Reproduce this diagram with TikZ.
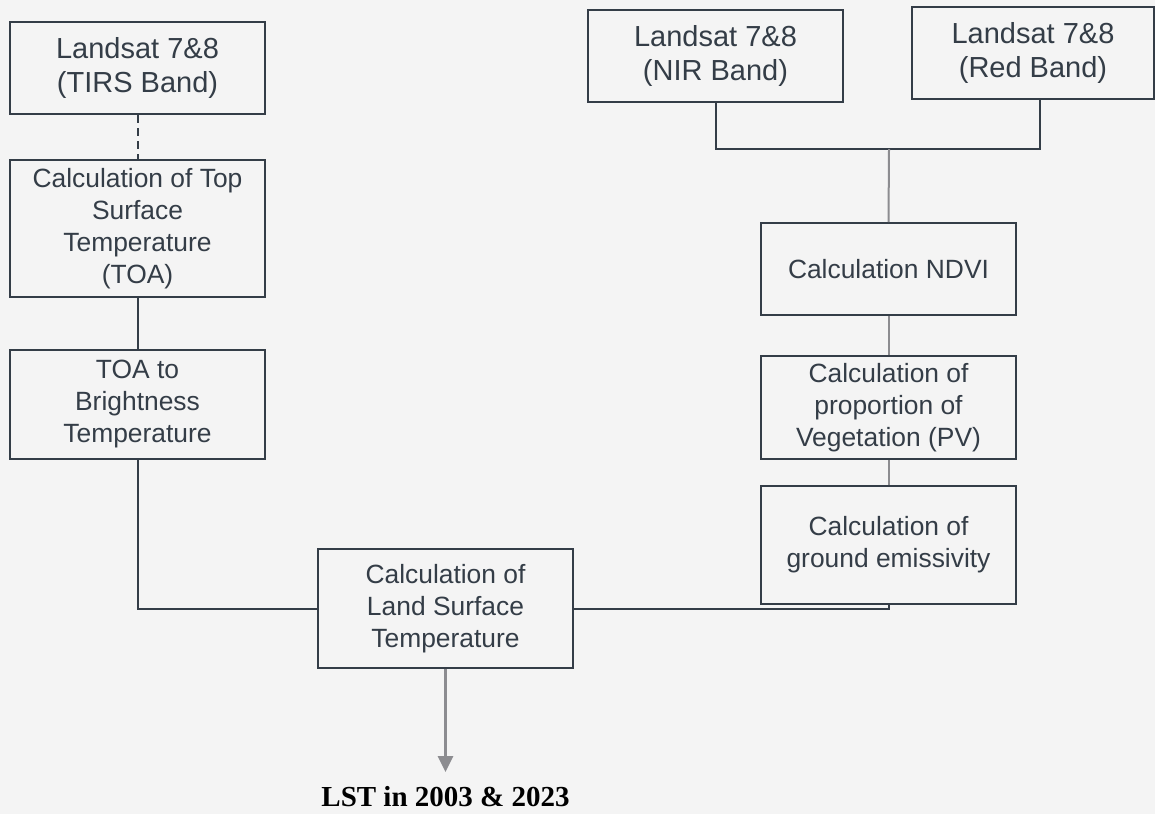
\documentclass[tikz,border=0pt]{standalone}
\usepackage{fontspec}
\setmainfont{Liberation Sans}
\newfontfamily\serifbold{Liberation Serif}
\usetikzlibrary{arrows.meta,calc}
\definecolor{bgc}{HTML}{F4F4F4}
\definecolor{ink}{HTML}{343D47}
\definecolor{greyline}{HTML}{8C8C90}
\tikzset{
  box/.style={draw=ink, line width=2pt, fill=bgc, text=ink, align=center, inner sep=0pt,
    font=\fontsize{26.4}{32}\selectfont},
  srcbox/.style={box, font=\fontsize{29}{34}\selectfont},
  darkline/.style={draw=ink, line width=2pt},
  greyconn/.style={draw=greyline, line width=2pt},
  outarrow/.style={draw=greyline, line width=3pt, -{Triangle[length=16pt,width=15pt]}},
}
\begin{document}
\begin{tikzpicture}[x=1pt,y=-1pt]
\fill[bgc] (0,0) rectangle (1155,814);
\useasboundingbox (0,0) rectangle (1155,814);

% left column
\node[srcbox, minimum width=255pt, minimum height=92pt] (tirs) at (137.5,68) {Landsat 7\&8\\(TIRS Band)};
\node[box, minimum width=255pt, minimum height=137pt] (toa) at (137.5,228.5) {Calculation of Top\\Surface\\Temperature\\(TOA)};
\node[box, minimum width=255pt, minimum height=109pt] (bt) at (137.5,404.5) {TOA to\\Brightness\\Temperature};

% right column
\node[srcbox, minimum width=255pt, minimum height=92pt] (nir) at (715.5,55.5) {Landsat 7\&8\\(NIR Band)};
\node[srcbox, minimum width=242pt, minimum height=92pt] (red) at (1033,53) {Landsat 7\&8\\(Red Band)};
\node[box, minimum width=255pt, minimum height=92pt] (ndvi) at (888.5,269) {Calculation NDVI};
\node[box, minimum width=255pt, minimum height=103pt] (pv) at (888.5,407.5) {Calculation of\\proportion of\\Vegetation (PV)};
\node[box, minimum width=255pt, minimum height=118pt] (emis) at (888.5,545) {Calculation of\\ground emissivity};

% centre
\node[box, minimum width=255pt, minimum height=119pt] (lst) at (445.5,608.5) {Calculation of\\Land Surface\\Temperature};
\node[font=\serifbold\bfseries\fontsize{29}{34}\selectfont, text=black, inner xsep=0pt, inner ysep=0pt, anchor=north] (out) at (445.5,786) {LST in 2003 \& 2023};
\coordinate (tip) at (445.5,772);

% junction coordinates
\coordinate (join) at (889,149);
\coordinate (redfoot) at (1040,99);

% connectors
\draw[darkline, dash pattern=on 8pt off 5pt] (tirs.south) -- (toa.north);
\draw[darkline] (toa.south) -- (bt.north);
\draw[darkline] (bt.south) |- (lst.west);
\draw[darkline] (nir.south) |- (join) -| (redfoot);
\draw[greyconn] (join) -- (ndvi.north);
\draw[greyconn] (ndvi.south) -- (pv.north);
\draw[greyconn] (pv.south) -- (emis.north);
\draw[darkline] (emis.south) |- (lst.east);
\draw[outarrow] (lst.south) -- (tip);
\end{tikzpicture}
\end{document}
